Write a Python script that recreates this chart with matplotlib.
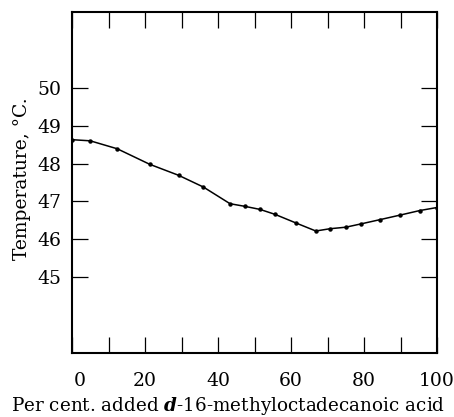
import matplotlib
matplotlib.use("Agg")
import matplotlib.pyplot as plt
import matplotlib.transforms as mtransforms

# values
pct = [0, 5, 12.4, 21.3, 29.2, 36, 43.3, 47.4, 51.5, 55.6, 61.4, 66.8,
       70.7, 75, 79.3, 84.4, 89.9, 95.3, 100]
temp = [48.63, 48.6, 48.39, 47.98, 47.69, 47.38, 46.94, 46.87, 46.79, 46.66,
        46.43, 46.22, 46.28, 46.32, 46.41, 46.52, 46.64, 46.76, 46.84]

x_ticks = list(range(0, 101, 10))
x_labels = ["0", "", "20", "", "40", "", "60", "", "80", "", "100"]
y_ticks = [45, 46, 47, 48, 49, 50]

plt.rcParams["font.family"] = ["DejaVu Serif"]
plt.rcParams["mathtext.fontset"] = "dejavuserif"

fig = plt.figure(figsize=(4.54, 4.17), dpi=100)
ax = fig.add_axes([72 / 454, 1 - 353 / 417, 365 / 454, 341 / 417])

ax.plot(pct, temp, color="black", lw=1.1, marker="o", ms=2.2)

ax.set_xlim(0, 100)
ax.set_ylim(43, 52)
ax.set_xticks(x_ticks)
ax.set_xticklabels(x_labels)
ax.set_yticks(y_ticks)
ax.tick_params(direction="in", length=11.5, width=0.9, top=True, right=True,
               labelsize=13.5)
ax.tick_params(axis="x", pad=14)
ax.tick_params(axis="y", pad=8)
for s in ax.spines.values():
    s.set_linewidth(1.5)

# the "0" label sits a little right of its tick in the original
lab0 = ax.get_xticklabels()[0]
lab0.set_transform(lab0.get_transform() +
                   mtransforms.ScaledTranslation(8 / 100, 0, fig.dpi_scale_trans))

ax.set_ylabel("Temperature, °C.", fontsize=13.5)
ax.yaxis.set_label_coords(-0.112, 0.51)
ax.set_xlabel(r"Per cent. added $\mathbfit{d}$-16-methyloctadecanoic acid",
              fontsize=13.2)
ax.xaxis.set_label_coords(0.427, -0.124)

fig.savefig("out.png", dpi=100)
